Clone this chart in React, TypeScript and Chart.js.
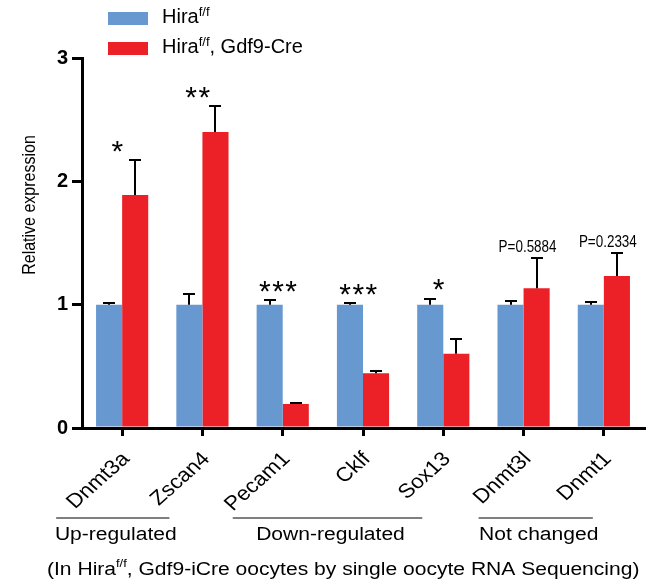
import React, { useEffect, useRef } from 'react';
import { Chart, registerables } from 'chart.js';

Chart.register(...registerables);

// ---------- data ----------
const categories = ['Dnmt3a', 'Zscan4', 'Pecam1', 'Cklf', 'Sox13', 'Dnmt3l', 'Dnmt1'];
const controlLabel = 'Hira^{f/f}';
const creLabel = 'Hira^{f/f}, Gdf9-Cre';
const controlValues = [1, 1, 1, 1, 1, 1, 1];
const controlErrors = [0.01, 0.087, 0.036, 0.01, 0.049, 0.032, 0.019];
const creValues = [1.89, 2.4, 0.195, 0.444, 0.603, 1.133, 1.233];
const creErrors = [0.28, 0.21, 0.006, 0.02, 0.116, 0.245, 0.186];
const significance = ['*', '**', '***', '***', '*', 'P=0.5884', 'P=0.2334'];
const yTicks = [0, 1, 2, 3];
const yTitle = 'Relative expression';
const groupLabels = ['Up-regulated', 'Down-regulated', 'Not changed'];
const groupFirst = [0, 2, 5];
const groupLast = [1, 4, 6];
const caption = '(In Hira^{f/f}, Gdf9-iCre oocytes by single oocyte RNA Sequencing)';

// ---------- style ----------
const FONT = '"Liberation Sans", Arial, Helvetica, sans-serif';
const BLUE = '#6898d0';
const RED = '#ec2027';
const W = 650;
const H = 585;
const TEXT_SX = 1.17; // horizontal stretch of the original figure's text
const groupLineOffsets = [
  [-66, -33],
  [-50, -21],
  [-45, -11],
];

function fontStr(size: number, weight = 'normal') {
  return `${weight} ${size}px ${FONT}`;
}

function parseSup(s: string) {
  const parts: { text: string; sup: boolean }[] = [];
  const re = /\^\{([^}]*)\}/g;
  let last = 0;
  let m: RegExpExecArray | null;
  while ((m = re.exec(s))) {
    if (m.index > last) parts.push({ text: s.slice(last, m.index), sup: false });
    parts.push({ text: m[1], sup: true });
    last = m.index + m[0].length;
  }
  if (last < s.length) parts.push({ text: s.slice(last), sup: false });
  return parts;
}

function drawRich(
  ctx: CanvasRenderingContext2D,
  s: string,
  x: number,
  y: number,
  size: number,
  supSize: number,
  supRise: number,
  sx: number,
  align: 'left' | 'center'
) {
  const parts = parseSup(s);
  let total = 0;
  const widths = parts.map((p) => {
    ctx.font = fontStr(p.sup ? supSize : size);
    const w = ctx.measureText(p.text).width * sx;
    total += w;
    return w;
  });
  let cx = align === 'center' ? x - total / 2 : x;
  parts.forEach((p, i) => {
    ctx.save();
    ctx.font = fontStr(p.sup ? supSize : size);
    ctx.textAlign = 'left';
    ctx.textBaseline = 'alphabetic';
    ctx.fillStyle = '#000';
    ctx.translate(cx, y - (p.sup ? supRise : 0));
    ctx.scale(sx, 1);
    ctx.fillText(p.text, 0, 0);
    ctx.restore();
    cx += widths[i];
  });
}

function drawCentered(ctx: CanvasRenderingContext2D, text: string, cx: number, cy: number, font: string, sx: number, spacing = 0) {
  ctx.save();
  ctx.font = font;
  (ctx as any).letterSpacing = `${spacing}px`;
  const m = ctx.measureText(text);
  const asc = m.actualBoundingBoxAscent;
  const desc = m.actualBoundingBoxDescent;
  const baseline = cy + (asc - desc) / 2;
  ctx.translate(cx, baseline);
  ctx.scale(sx, 1);
  ctx.textAlign = 'center';
  ctx.textBaseline = 'alphabetic';
  ctx.fillStyle = '#000';
  ctx.fillText(text, 0, 0);
  ctx.restore();
}

const annotate = {
  id: 'annotate',
  afterDraw(chart: any) {
    const ctx: CanvasRenderingContext2D = chart.ctx;
    const xs = chart.scales.x;
    const ys = chart.scales.y;

    // error bars
    const series: [number[], number[], number][] = [
      [controlValues, controlErrors, 0],
      [creValues, creErrors, 1],
    ];
    ctx.save();
    ctx.strokeStyle = '#000';
    ctx.lineWidth = 2;
    series.forEach(([vals, errs, di]) => {
      const meta = chart.getDatasetMeta(di);
      meta.data.forEach((bar: any, i: number) => {
        const base = ys.getPixelForValue(vals[i]);
        const top = Math.round(ys.getPixelForValue(vals[i] + errs[i]));
        const bx = Math.round(bar.x);
        ctx.beginPath();
        ctx.moveTo(bx, base);
        ctx.lineTo(bx, top);
        ctx.moveTo(bx - 6, top);
        ctx.lineTo(bx + 6, top);
        ctx.stroke();
      });
    });
    ctx.restore();

    // significance labels
    categories.forEach((_, i) => {
      const cx = xs.getPixelForValue(i);
      const errTop = Math.min(
        ys.getPixelForValue(controlValues[i] + controlErrors[i]),
        ys.getPixelForValue(creValues[i] + creErrors[i])
      );
      const lab = significance[i];
      if (lab.startsWith('P')) {
        drawCentered(ctx, lab, cx + 4, errTop - 12, fontStr(16), 0.84);
      } else {
        drawCentered(ctx, lab, cx - 4, errTop - 14, fontStr(30), 1.0, 1.5);
      }
    });

    // x tick labels (rotated)
    categories.forEach((lab, i) => {
      const tx = xs.getPixelForValue(i);
      ctx.save();
      ctx.translate(tx + 4, chart.chartArea.bottom + 28);
      ctx.scale(1.12, 1);
      ctx.rotate(-Math.PI / 4);
      ctx.font = fontStr(20);
      ctx.textAlign = 'right';
      ctx.textBaseline = 'middle';
      ctx.fillStyle = '#000';
      ctx.fillText(lab, 0, 0);
      ctx.restore();
    });

    // y title
    ctx.save();
    ctx.translate(30, (ys.getPixelForValue(yTicks[0]) + ys.getPixelForValue(yTicks[yTicks.length - 1])) / 2 - 38);
    ctx.scale(1.15, 1);
    ctx.rotate(-Math.PI / 2);
    ctx.font = fontStr(16);
    ctx.textAlign = 'center';
    ctx.textBaseline = 'middle';
    ctx.fillStyle = '#000';
    ctx.fillText(yTitle, 0, 0);
    ctx.restore();

    // group brackets
    groupLabels.forEach((g, gi) => {
      const x1 = xs.getPixelForValue(groupFirst[gi]) + groupLineOffsets[gi][0];
      const x2 = xs.getPixelForValue(groupLast[gi]) + groupLineOffsets[gi][1];
      ctx.save();
      ctx.strokeStyle = '#000';
      ctx.lineWidth = 1.2;
      ctx.beginPath();
      ctx.moveTo(x1, 518);
      ctx.lineTo(x2, 518);
      ctx.stroke();
      ctx.restore();
      drawRich(ctx, g, (x1 + x2) / 2 + 3, 540, 18, 11, 7, TEXT_SX, 'center');
    });

    // caption
    drawRich(ctx, caption, 47, 575, 18, 11, 8, TEXT_SX, 'left');

    // legend
    const legend: [string, string][] = [
      [controlLabel, BLUE],
      [creLabel, RED],
    ];
    legend.forEach(([lab, col], li) => {
      const y0 = 12 + li * 30;
      ctx.fillStyle = col;
      ctx.fillRect(108, y0, 40, 13);
      drawRich(ctx, lab, 162, y0 + 11, 20, 13, 7, 1.0, 'left');
    });
  },
};

export default function App() {
  const ref = useRef<HTMLCanvasElement | null>(null);

  useEffect(() => {
    document.body.style.margin = '0';
    const canvas = ref.current;
    if (!canvas) return;
    const chart = new Chart(canvas, {
      type: 'bar',
      data: {
        labels: categories,
        datasets: [
          {
            label: controlLabel,
            data: controlValues,
            backgroundColor: BLUE,
            borderWidth: 0,
            categoryPercentage: 0.65,
            barPercentage: 1.0,
          },
          {
            label: creLabel,
            data: creValues,
            backgroundColor: RED,
            borderWidth: 0,
            categoryPercentage: 0.65,
            barPercentage: 1.0,
          },
        ],
      },
      options: {
        responsive: false,
        animation: false,
        devicePixelRatio: 1,
        layout: { padding: { top: 58, right: 6, left: 0, bottom: 0 } },
        plugins: {
          legend: { display: false },
          tooltip: { enabled: false },
          title: { display: false },
        },
        scales: {
          x: {
            grid: {
              display: true,
              drawOnChartArea: false,
              drawTicks: true,
              tickLength: 8,
              lineWidth: 3,
              color: '#000',
              offset: false,
            },
            border: { display: true, width: 3, color: '#000' },
            ticks: { display: false },
            afterFit: (s: any) => {
              s.height = H - 428;
            },
          },
          y: {
            min: 0,
            max: 3,
            afterBuildTicks: (s: any) => {
              s.ticks = yTicks.map((v) => ({ value: v }));
            },
            grid: {
              display: true,
              drawOnChartArea: false,
              drawTicks: true,
              tickLength: 10,
              lineWidth: 3,
              color: '#000',
            },
            border: { display: true, width: 3, color: '#000' },
            ticks: {
              font: { family: FONT, size: 20, weight: 'bold' },
              color: '#000',
              padding: 4,
            },
            afterFit: (s: any) => {
              s.width = 82;
            },
          },
        },
      },
      plugins: [annotate],
    } as any);
    return () => chart.destroy();
  }, []);

  return (
    <div style={{ position: 'absolute', left: 0, top: 0, width: W, height: H, background: '#fff' }}>
      <canvas ref={ref} width={W} height={H} style={{ display: 'block' }} />
    </div>
  );
}
